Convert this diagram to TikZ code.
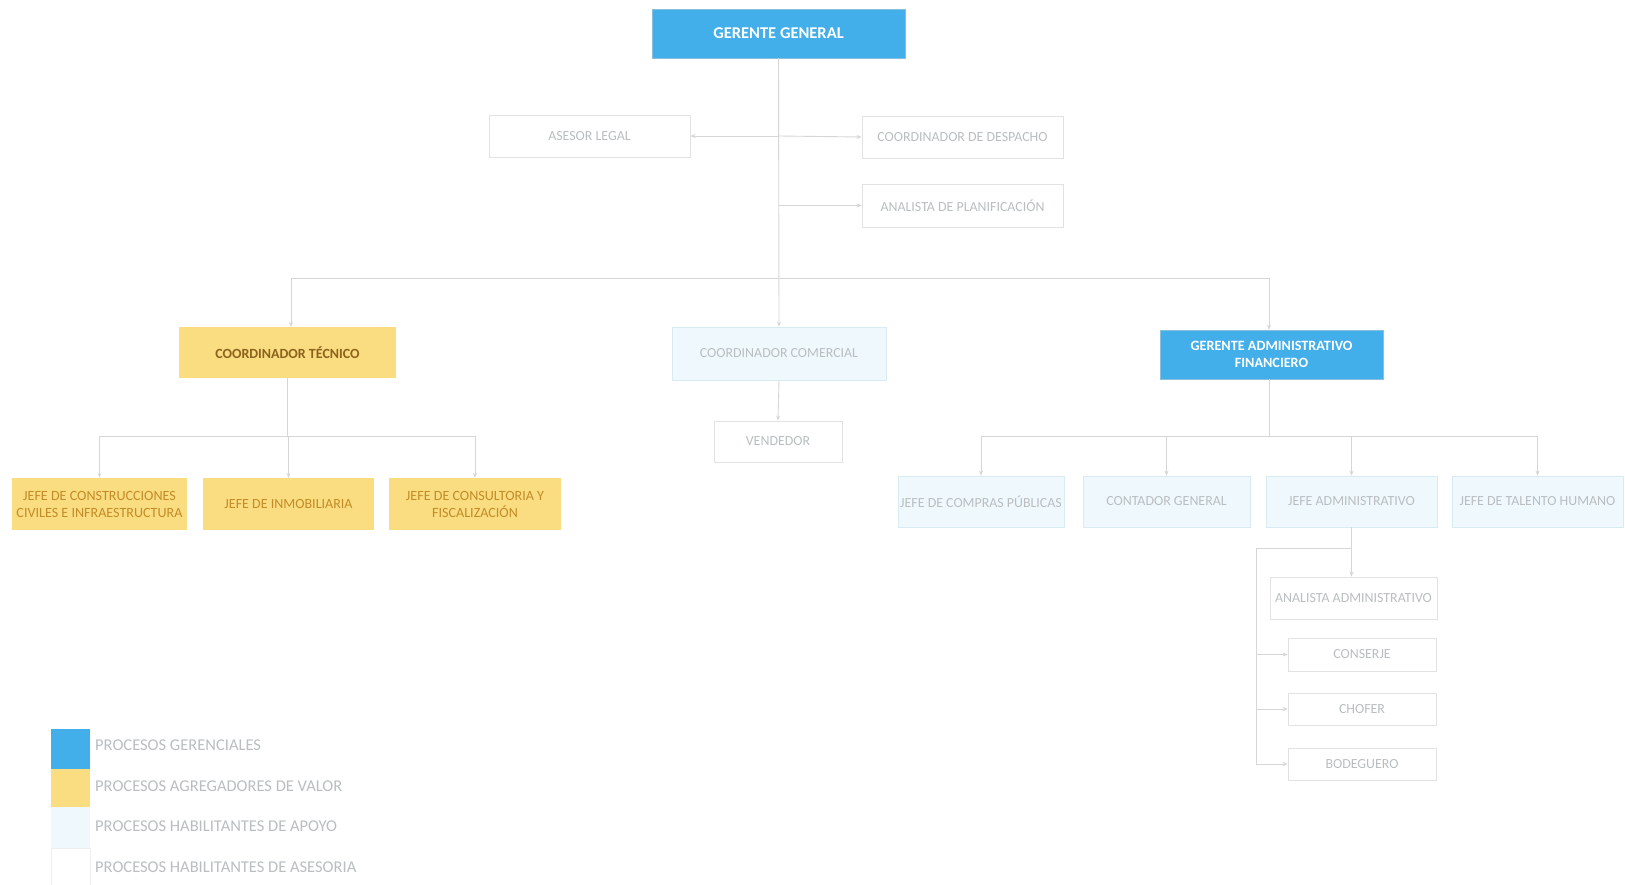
\documentclass[tikz,border=0pt]{standalone}
\usepackage{fontspec}
\setmainfont{Carlito}
\usetikzlibrary{arrows.meta}
\definecolor{gblue}{RGB}{66,174,234}
\definecolor{gyellow}{RGB}{249,221,128}
\definecolor{gcyan}{RGB}{239,249,253}
\definecolor{gcyanb}{RGB}{216,234,242}
\definecolor{gwhiteb}{RGB}{226,226,226}
\definecolor{gline}{RGB}{214,214,214}
\definecolor{gtext}{RGB}{186,190,192}
\definecolor{gbrown}{RGB}{140,98,30}
\definecolor{gorange}{RGB}{196,140,40}
\tikzset{
  x=1pt, y=-1pt,
  base/.style={inner sep=0pt, align=center, font=\fontsize{13.9}{15}\selectfont},
  gerbox/.style={base, fill=gblue, draw=gblue!85!black!60, text=white, font=\bfseries\fontsize{16.5}{18}\selectfont},
  valbox/.style={base, fill=gyellow, text=gorange, font=\fontsize{14}{16}\selectfont},
  apobox/.style={base, fill=gcyan, draw=gcyanb, line width=0.8pt, text=gtext},
  asebox/.style={base, fill=white, draw=gwhiteb, line width=0.8pt, text=gtext},
  conn/.style={draw=gline, line width=0.9pt},
  arr/.style={conn, -{Stealth[length=5pt,width=4pt]}},
  legtxt/.style={anchor=west, inner sep=0pt, text=gtext, font=\fontsize{16.5}{18}\selectfont}
}
\begin{document}
\begin{tikzpicture}
\useasboundingbox[fill=white] (0,0) rectangle (1625,885);
% nodes
\node[gerbox, minimum width=253pt, minimum height=49pt] (gg) at (778.5,33.5) {GERENTE GENERAL};
\node[asebox, minimum width=201pt, minimum height=42pt] (ase) at (589.5,136) {ASESOR LEGAL};
\node[asebox, minimum width=201pt, minimum height=42pt] (des) at (962.5,137) {COORDINADOR DE DESPACHO};
\node[asebox, minimum width=201pt, minimum height=43pt] (pla) at (962.5,205.5) {ANALISTA DE PLANIFICACIÓN};
\node[valbox, minimum width=217pt, minimum height=51pt, text=gbrown, font=\bfseries\fontsize{14}{16}\selectfont] (ct) at (287.5,352.5) {COORDINADOR TÉCNICO};
\node[apobox, minimum width=214pt, minimum height=53pt] (cc) at (779,353.5) {COORDINADOR COMERCIAL};
\node[gerbox, minimum width=223pt, minimum height=49pt, font=\bfseries\fontsize{14.2}{17}\selectfont] (gaf) at (1271.5,354.5) {GERENTE ADMINISTRATIVO\\FINANCIERO};
\node[asebox, minimum width=128pt, minimum height=41pt] (ven) at (778,441.5) {VENDEDOR};
\node[valbox, minimum width=175pt, minimum height=52pt, font=\fontsize{14.1}{17}\selectfont] (j1) at (99.5,504) {JEFE DE CONSTRUCCIONES\\CIVILES E INFRAESTRUCTURA};
\node[valbox, minimum width=171pt, minimum height=52pt] (j2) at (288.5,504) {JEFE DE INMOBILIARIA};
\node[valbox, minimum width=172pt, minimum height=52pt, font=\fontsize{14.1}{17}\selectfont] (j3) at (475,504) {JEFE DE CONSULTORIA Y\\FISCALIZACIÓN};
\node[apobox, minimum width=166pt, minimum height=51pt] (cp) at (981,501.5) {JEFE DE COMPRAS PÚBLICAS};
\node[apobox, minimum width=167pt, minimum height=51pt] (cg) at (1166.5,501.5) {CONTADOR GENERAL};
\node[apobox, minimum width=171pt, minimum height=51pt] (ja) at (1351.5,501.5) {JEFE ADMINISTRATIVO};
\node[apobox, minimum width=171pt, minimum height=51pt] (th) at (1537.5,501.5) {JEFE DE TALENTO HUMANO};
\node[asebox, minimum width=167pt, minimum height=42pt] (aa) at (1353.5,598) {ANALISTA ADMINISTRATIVO};
\node[asebox, minimum width=148pt, minimum height=33pt] (cj) at (1362,654.5) {CONSERJE};
\node[asebox, minimum width=148pt, minimum height=32pt] (ch) at (1362,709) {CHOFER};
\node[asebox, minimum width=148pt, minimum height=32pt] (bo) at (1362,764) {BODEGUERO};
% helper coordinates
\coordinate (t1) at (778.5,136);
\coordinate (t2) at (778.5,205.5);
\coordinate (busL) at (291,278);
\coordinate (busR) at (1269,278);
\coordinate (ctb) at (287.5,436);
\coordinate (gab) at (1269,436);
\coordinate (jab) at (1351.5,548);
\coordinate (jal) at (1256,548);
\coordinate (jad) at (1256,764);
% connectors
\draw[arr] (gg.south) -- (cc.north);
\draw[arr] (t1) -- (ase.east);
\draw[arr] (t1) -- (des.west);
\draw[arr] (t2) -- (pla.west);
\draw[conn] (busL) -- (busR);
\draw[arr] (busL) -- (busL |- ct.north);
\draw[arr] (busR) -- (busR |- gaf.north);
\draw[arr] (cc.south) -- (ven.north);
\draw[conn] (ct.south) -- (ctb);
\draw[conn] (j1.north |- ctb) -- (j3.north |- ctb);
\foreach \n in {j1,j2,j3} \draw[arr] (\n.north |- ctb) -- (\n.north);
\draw[conn] (busR |- gaf.south) -- (gab);
\draw[conn] (cp.north |- gab) -- (th.north |- gab);
\foreach \n in {cp,cg,ja,th} \draw[arr] (\n.north |- gab) -- (\n.north);
\draw[arr] (ja.south) -- (aa.north -| ja.south);
\draw[conn] (jab) -- (jal) -- (jad);
\foreach \n in {cj,ch,bo} \draw[arr] (jal |- \n.west) -- (\n.west);
% legend
\node[fill=gblue, minimum width=39pt, minimum height=40pt, inner sep=0pt] (l1) at (70.5,749) {};
\node[fill=gyellow, minimum width=39pt, minimum height=38pt, inner sep=0pt] (l2) at (70.5,788) {};
\node[fill=gcyan, minimum width=39pt, minimum height=41pt, inner sep=0pt] (l3) at (70.5,827.5) {};
\node[fill=white, draw=gwhiteb!60, minimum width=39pt, minimum height=37pt, inner sep=0pt] (l4) at (70.5,866.5) {};
\node[legtxt] (lt1) at (95,745) {PROCESOS GERENCIALES};
\node[legtxt] (lt2) at (95,786) {PROCESOS AGREGADORES DE VALOR};
\node[legtxt] (lt3) at (95,826) {PROCESOS HABILITANTES DE APOYO};
\node[legtxt] (lt4) at (95,867) {PROCESOS HABILITANTES DE ASESORIA};
\end{tikzpicture}
\end{document}
